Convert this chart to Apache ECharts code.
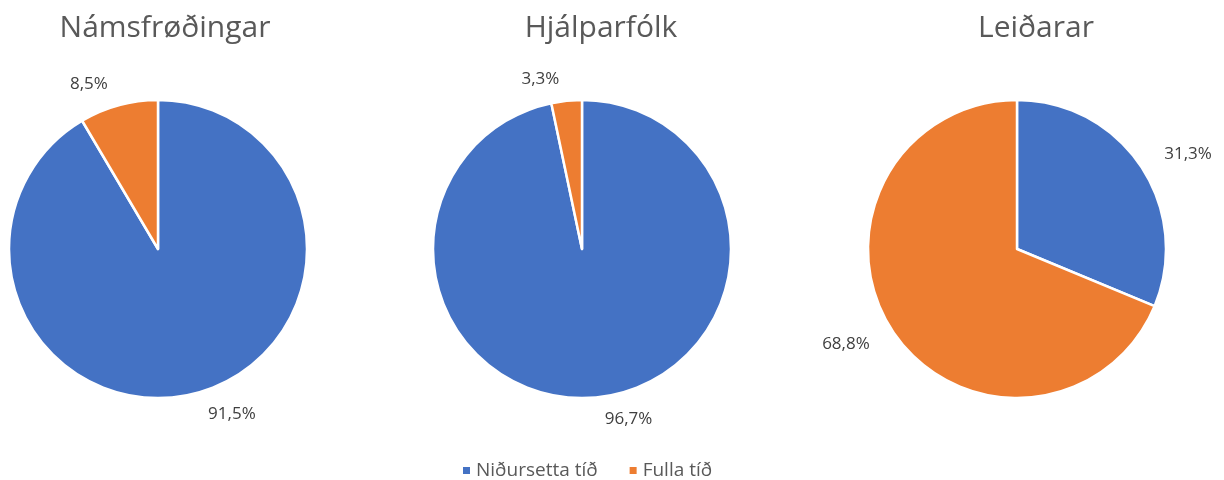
<!DOCTYPE html>
<html>
<head>
<meta charset="UTF-8">
<title>Pie</title>
<script src="https://cdn.jsdelivr.net/npm/echarts@6/dist/echarts.min.js"></script>
</head>
<body style="margin:0">
<div id="main" style="width:1224px;height:480px;"></div>
<script type="text/javascript">
    var titles = ['Námsfrøðingar', 'Hjálparfólk', 'Leiðarar'];
    var categories = ['Niðursetta tíð', 'Fulla tíð'];
    var namsfrodingar = [91.5, 8.5];
    var hjalparfolk = [96.7, 3.3];
    var leidarar = [31.3, 68.8];
    var colors = ['#4472C4', '#ED7D31'];

    var font = 'Open Sans, Noto Sans, sans-serif';
    var centers = [[158, 249], [582, 249], [1017, 249]];
    var titleX = [160, 596, 1031];
    var allData = [namsfrodingar, hjalparfolk, leidarar];

    var myChart = echarts.init(document.getElementById('main'));

    var series = [];
    var titleList = [];
    for (var i = 0; i < 3; i++) {
        titleList.push({
            text: titles[i],
            left: titleX[i],
            top: 8,
            textAlign: 'center',
            textStyle: { fontFamily: font, fontSize: 30, fontWeight: 'normal', color: '#595959' }
        });
        var d = [];
        for (var j = 0; j < categories.length; j++) {
            d.push({ name: categories[j], value: allData[i][j] });
        }
        series.push({
            type: 'pie',
            center: centers[i],
            radius: 149,
            startAngle: 90,
            clockwise: true,
            animation: false,
            data: d,
            itemStyle: { borderColor: '#fff', borderWidth: 2.5 },
            label: {
                show: true,
                position: 'outside',
                fontFamily: font,
                fontSize: 17,
                color: '#404040',
                formatter: function (p) {
                    return p.value.toFixed(1).replace('.', ',') + '%';
                }
            },
            labelLine: { show: false, length: 22, length2: 0 },
            emphasis: { disabled: true }
        });
    }

    var option = {
        color: colors,
        title: titleList,
        legend: {
            data: categories,
            top: 456,
            left: 456,
            icon: 'rect',
            itemWidth: 9,
            itemHeight: 9,
            itemGap: 30,
            textStyle: { fontFamily: font, fontSize: 19, color: '#595959' }
        },
        series: series
    };
    myChart.setOption(option);
</script>
</body>
</html>
